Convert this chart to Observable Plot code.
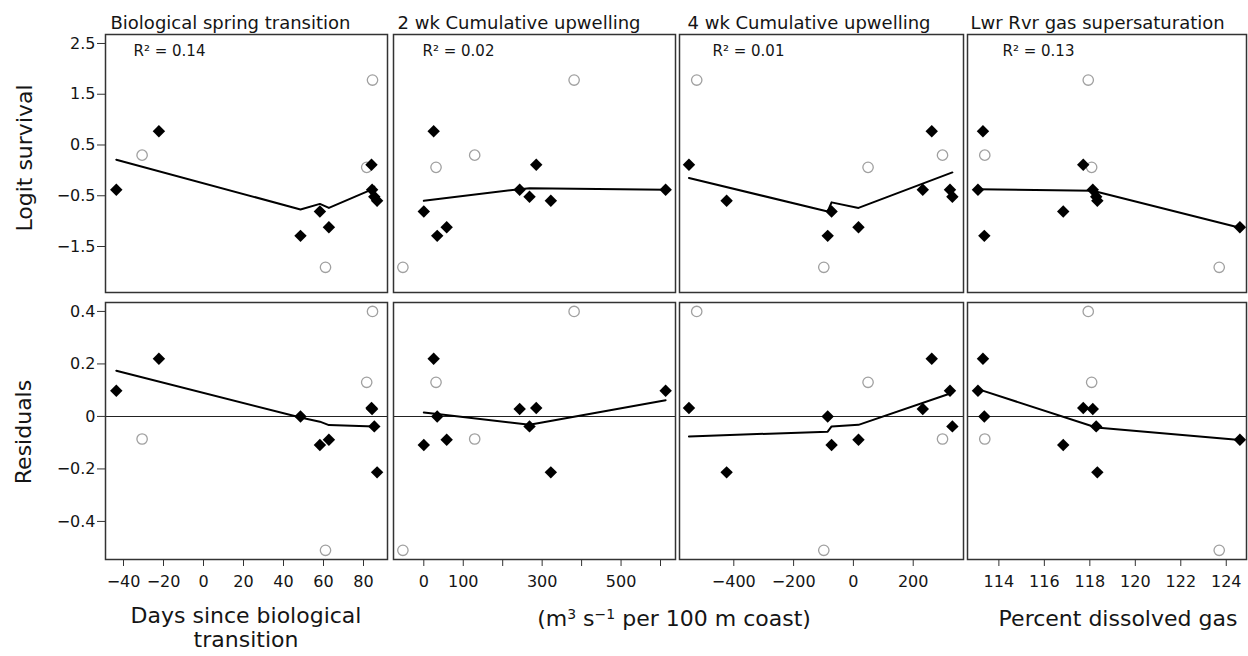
<!DOCTYPE html>
<html><head><meta charset="utf-8">
<script src="https://cdn.jsdelivr.net/npm/d3@7"></script>
<script src="https://cdn.jsdelivr.net/npm/@observablehq/plot@0.6"></script>
<style>
body{margin:0;background:#fff;}
#chart{position:relative;width:1248px;height:656px;font-family:"DejaVu Sans",sans-serif;color:#151515;overflow:hidden;background:#fff;}
.lab{position:absolute;font-size:22px;white-space:nowrap;line-height:24px;text-align:center;transform:translate(-50%,-50%);}
.lab sup{font-size:14px;vertical-align:0.5em;line-height:0;}
</style></head><body><div id="chart"></div>
<script>
// ---------------- data ----------------
const panelTitles = ["Biological spring transition", "2 wk Cumulative upwelling", "4 wk Cumulative upwelling", "Lwr Rvr gas supersaturation"];
const r2Labels = ["R\u00B2 = 0.14", "R\u00B2 = 0.02", "R\u00B2 = 0.01", "R\u00B2 = 0.13"];

// 13 years: first 9 used in fit (solid diamonds), last 4 excluded (open circles)
const logitSurvival = [0.77, -0.81, -1.29, -1.12, -0.38, 0.11, -0.52, -0.60, -0.38, 1.78, 0.06, 0.30, -1.91];
const residuals     = [0.22, -0.109, 0.00, -0.089, 0.028, 0.032, -0.038, -0.213, 0.098, 0.40, 0.13, -0.086, -0.51];
const excluded      = [0, 0, 0, 0, 0, 0, 0, 0, 0, 1, 1, 1, 1];

const xBio = [-22.3, 58.2, 48.5, 62.7, 84.3, 84.0, 85.4, 86.8, -43.6, 84.5, 81.6, -30.7, 61.0];
const xUp2 = [25, 0, 34, 58, 243, 285, 268, 322, 613, 381, 31, 129, -53];
const xUp4 = [262, -73, -86, 17, 232, -550, 331, -424, 323, -524, 49, 298, -99];
const xGas = [113.30, 116.83, 113.36, 124.60, 118.13, 117.71, 118.28, 118.33, 113.08, 117.93, 118.08, 113.38, 123.69];

// fitted smooth lines, survival (top row)
const fitBioX = [-43.6, 48.5, 58.2, 62.7, 84.0, 85.4];
const fitBioY = [0.21, -0.77, -0.66, -0.74, -0.38, -0.32];
const fitUp2X = [0, 243, 268, 613];
const fitUp2Y = [-0.60, -0.37, -0.35, -0.38];
const fitUp4X = [-550, -86, -73, 17, 331];
const fitUp4Y = [-0.15, -0.81, -0.63, -0.74, -0.04];
const fitGasX = [113.08, 118.13, 124.60];
const fitGasY = [-0.37, -0.40, -1.13];

// fitted smooth lines, residuals (bottom row)
const resBioX = [-43.6, 48.5, 58.2, 62.7, 85.4];
const resBioY = [0.174, -0.004, -0.02, -0.033, -0.038];
const resUp2X = [0, 34, 268, 613];
const resUp2Y = [0.015, 0.009, -0.032, 0.062];
const resUp4X = [-550, -86, -73, 17, 331];
const resUp4Y = [-0.076, -0.058, -0.038, -0.032, 0.09];
const resGasX = [113.08, 118.28, 124.60];
const resGasY = [0.104, -0.042, -0.09];

// axes
const xTicksBio = [-40, -20, 0, 20, 40, 60, 80];
const xLabelsBio = [-40, -20, 0, 20, 40, 60, 80];
const xTicksUp2 = [0, 100, 200, 300, 400, 500, 600];
const xLabelsUp2 = [0, 100, 300, 500];
const xTicksUp4 = [-400, -200, 0, 200];
const xLabelsUp4 = [-400, -200, 0, 200];
const xTicksGas = [114, 116, 118, 120, 122, 124];
const xLabelsGas = [114, 116, 118, 120, 122, 124];
const yTicksSurv = [-1.5, -0.5, 0.5, 1.5, 2.5];
const yLabelsSurv = ["\u22121.5", "\u22120.5", "0.5", "1.5", "2.5"];
const yTicksRes = [-0.4, -0.2, 0, 0.2, 0.4];
const yLabelsRes = ["\u22120.4", "\u22120.2", "0", "0.2", "0.4"];

const xAxisTitles = ["Days since biological<br>transition", "(m<sup>3</sup> s<sup>\u22121</sup> per 100 m coast)", "Percent dissolved gas"];
const yAxisTitles = ["Logit survival", "Residuals"];

// ---------------- layout ----------------
const chart = document.getElementById("chart");
const colLeft = [105, 393, 679, 967];
const colRight = [387, 675, 963, 1246];
const xDomains = [[-49, 92], [-76.8, 638], [-581.6, 368.2], [112.62, 124.89]];
const yDomains = [[-2.406, 2.677], [-0.545, 0.434]];
const titleDx = [5, 4, 8, 3];
const r2Dx = [28, 29, 33, 35];

const xsAll = [xBio, xUp2, xUp4, xGas];
const fitsX = [[fitBioX, fitUp2X, fitUp4X, fitGasX], [resBioX, resUp2X, resUp4X, resGasX]];
const fitsY = [[fitBioY, fitUp2Y, fitUp4Y, fitGasY], [resBioY, resUp2Y, resUp4Y, resGasY]];
const xTicks = [xTicksBio, xTicksUp2, xTicksUp4, xTicksGas];
const xLabels = [xLabelsBio, xLabelsUp2, xLabelsUp4, xLabelsGas];

const fmtNum = d => String(d).replace("-", "\u2212");

for (let row = 0; row < 2; row++) {
  for (let col = 0; col < 4; col++) {
    const L = colLeft[col], R = colRight[col];
    const top = row === 0 ? 0 : 296;
    const mt = row === 0 ? 34 : 6;
    const fh = row === 0 ? 258 : 257;
    const mb = row === 0 ? 4 : 97;
    const ml = col === 0 ? 105 : 3;
    const mr = 3;
    const width = ml + (R - L) + mr;
    const height = mt + fh + mb;
    const ys = row === 0 ? logitSurvival : residuals;
    const pts = xsAll[col].map((x, i) => ({x, y: ys[i], ex: excluded[i]}));
    const fit = fitsX[row][col].map((x, i) => ({x, y: fitsY[row][col][i]}));
    const marks = [];
    if (row === 1) marks.push(Plot.ruleY([0], {stroke: "#222", strokeWidth: 1.1}));
    marks.push(Plot.line(fit, {x: "x", y: "y", stroke: "#000", strokeWidth: 2}));
    marks.push(Plot.dot(pts.filter(d => d.ex), {x: "x", y: "y", r: 5.2, stroke: "#a0a0a0", strokeWidth: 1.3, fill: "none"}));
    marks.push(Plot.dot(pts.filter(d => !d.ex), {x: "x", y: "y", r: 5.6, symbol: "diamond2", fill: "#000", stroke: "none"}));
    marks.push(Plot.frame({stroke: "#333", strokeWidth: 1.5}));
    if (row === 0) {
      marks.push(Plot.text([panelTitles[col]], {text: d => d, frameAnchor: "top-left", dx: titleDx[col], dy: -11, textAnchor: "start", lineAnchor: "middle", fontSize: 18, fill: "#151515"}));
      marks.push(Plot.text([r2Labels[col]], {text: d => d, frameAnchor: "top-left", dx: r2Dx[col], dy: 17, textAnchor: "start", lineAnchor: "middle", fontSize: 15, fill: "#151515"}));
    }
    if (col === 0) {
      const yt = row === 0 ? yTicksSurv : yTicksRes;
      const yl = row === 0 ? yLabelsSurv : yLabelsRes;
      marks.push(Plot.axisY({ticks: yt, label: null, tickSize: 8, tickPadding: 2, fontSize: 16, stroke: "#333", fill: "#151515",
        tickFormat: d => yl[yt.indexOf(d)]}));
    }
    if (row === 1) {
      const lab = xLabels[col];
      marks.push(Plot.axisX({ticks: xTicks[col], label: null, tickSize: 7, tickPadding: 9, fontSize: 16, stroke: "#333", fill: "#151515",
        tickFormat: d => lab.includes(d) ? fmtNum(d) : ""}));
    }
    const svg = Plot.plot({
      width, height,
      marginLeft: ml, marginRight: mr, marginTop: mt, marginBottom: mb,
      x: {domain: xDomains[col], axis: null},
      y: {domain: yDomains[row], axis: null},
      style: `position:absolute;left:${L - ml}px;top:${top}px;overflow:visible;background:transparent;font-family:'DejaVu Sans',sans-serif;font-size:16px;color:#151515;max-width:none;`,
      marks
    });
    chart.appendChild(svg);
  }
}

// axis titles
function addLabel(html, x, y, rotate) {
  const d = document.createElement("div");
  d.className = "lab";
  d.innerHTML = html;
  d.style.left = x + "px";
  d.style.top = y + "px";
  if (rotate) d.style.transform = "translate(-50%,-50%) rotate(-90deg)";
  chart.appendChild(d);
}
addLabel(yAxisTitles[0], 25, 158, true);
addLabel(yAxisTitles[1], 24, 432, true);
addLabel(xAxisTitles[0], 246, 628, false);
addLabel(xAxisTitles[1], 674, 619, false);
addLabel(xAxisTitles[2], 1118, 619, false);
</script></body></html>
